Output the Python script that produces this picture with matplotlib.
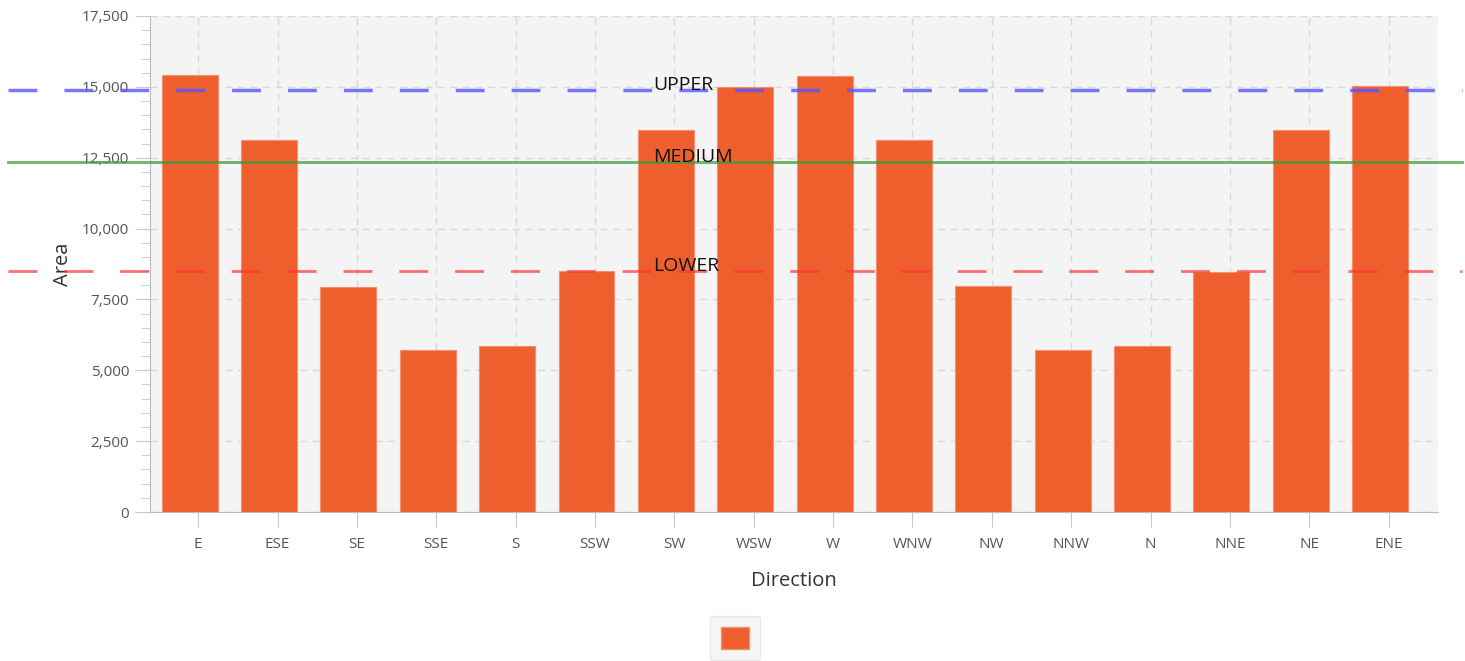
import matplotlib.pyplot as plt
from matplotlib.patches import Patch
from matplotlib.ticker import MultipleLocator, FuncFormatter

directions = ["E", "ESE", "SE", "SSE", "S", "SSW", "SW", "WSW",
              "W", "WNW", "NW", "NNW", "N", "NNE", "NE", "ENE"]
area = [15420, 13130, 7940, 5720, 5860, 8500, 13480, 15000,
        15380, 13130, 7970, 5720, 5860, 8470, 13480, 15030]

upper = 14890
medium = 12350
lower = 8500

plt.rcParams['font.family'] = ['Open Sans', 'DejaVu Sans']

fig = plt.figure(figsize=(14.65, 6.61), dpi=100)
ax = fig.add_axes([0.1024, 0.2254, 0.8792, 0.7504])
ax.set_facecolor('#f4f4f4')

x = list(range(len(directions)))
ax.bar(x, area, width=0.705, color='#ee5f2d', edgecolor='#f39070', linewidth=0.8, zorder=2)

# category axis is a bit wider than the bars need, ticks sit slightly right of the bars
ax.set_xlim(-0.5, 15.73)
ax.set_xticks([i + 0.107 for i in x])
ax.set_xticklabels(directions)
ax.set_ylim(0, 17500)
ax.yaxis.set_major_locator(MultipleLocator(2500))
ax.yaxis.set_minor_locator(MultipleLocator(500))
ax.yaxis.set_major_formatter(FuncFormatter(lambda v, p: f"{int(v):,}"))

ax.grid(True, which='major', linestyle=(0, (5, 4)), color='#d8d8d8', linewidth=1, zorder=0)
ax.set_axisbelow(True)
for s in ['top', 'right']:
    ax.spines[s].set_visible(False)
for s in ['left', 'bottom']:
    ax.spines[s].set_color('#bbbbbb')
ax.tick_params(axis='both', which='major', length=11, color='#c8c8c8', labelcolor='#555555', labelsize=11)
ax.tick_params(axis='y', which='major', pad=4)
ax.tick_params(axis='x', which='major', pad=7)
ax.tick_params(axis='y', which='minor', length=6.5, color='#c8c8c8')

ax.set_xlabel("Direction", fontsize=14.5, color='#333333', labelpad=14)
ax.set_ylabel("Area", fontsize=14.5, color='#333333', labelpad=6)

# threshold lines, running past the plot area
x0, x1 = -2.29, 16.03
ax.plot([x0, x1], [upper, upper], color='#5555ff', alpha=0.8, linewidth=2.5,
        linestyle=(0, (8.3, 7.8)), clip_on=False, zorder=3)
ax.plot([x0, x1], [medium, medium], color='#3a9a3a', alpha=0.75, linewidth=2,
        clip_on=False, zorder=3)
ax.plot([x0, x1], [lower, lower], color='#ff3333', alpha=0.7, linewidth=2,
        linestyle=(0, (10.4, 9.7)), clip_on=False, zorder=3)

tx = 5.84
ax.text(tx, upper, "UPPER", fontsize=14, color='#111111', va='baseline', zorder=4)
ax.text(tx, medium, "MEDIUM", fontsize=14, color='#111111', va='baseline', zorder=4)
ax.text(tx, lower, "LOWER", fontsize=14, color='#111111', va='baseline', zorder=4)

fig.legend(handles=[Patch(facecolor='#ee5f2d', edgecolor='#f39070')], labels=[''],
           loc='lower center', bbox_to_anchor=(0.5017, 0.0), frameon=True,
           facecolor='#f4f4f4', edgecolor='#e4e4e4', handlelength=2.0, handleheight=2.0,
           handletextpad=0, borderpad=0.8, borderaxespad=0.1, fancybox=True)

fig.savefig('out.png', dpi=100)
